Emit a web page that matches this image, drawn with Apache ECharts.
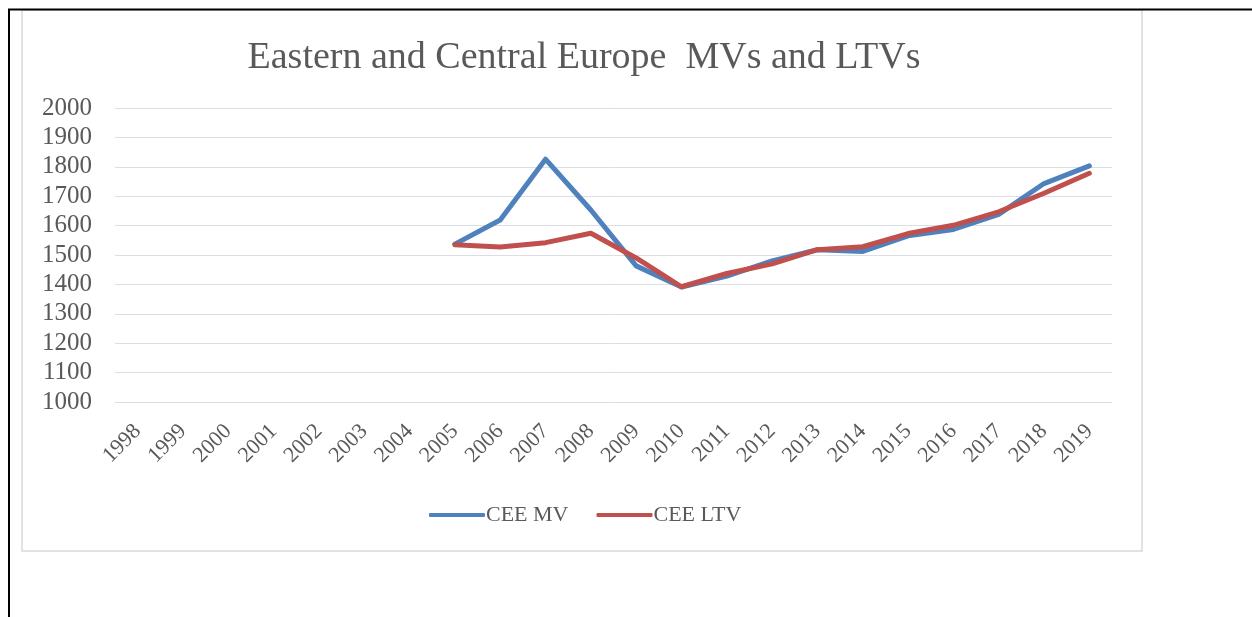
<!DOCTYPE html>
<html>
<head>
<meta charset="utf-8">
<script src="https://cdn.jsdelivr.net/npm/echarts@6/dist/echarts.min.js"></script>
<style>html,body{margin:0;padding:0;background:#fff;}#c{width:1252px;height:617px;}</style>
</head>
<body>
<div id="c"></div>
<script>
const years = ['1998','1999','2000','2001','2002','2003','2004','2005','2006','2007','2008','2009','2010','2011','2012','2013','2014','2015','2016','2017','2018','2019'];
const ceeMV = [null,null,null,null,null,null,null,1537,1619,1826,1653,1463,1391,1428,1480,1518,1512,1565,1587,1638,1743,1803];
const ceeLTV = [null,null,null,null,null,null,null,1535,1527,1542,1574,1490,1392,1437,1470,1518,1528,1573,1601,1647,1710,1778];
const yTicks = {min:1000, max:2000, step:100};

const font = '"Liberation Serif", "DejaVu Serif", serif';
const chart = echarts.init(document.getElementById('c'));
chart.setOption({
  animation:false,
  backgroundColor:'#fff',
  title:{text:'Eastern and Central Europe  MVs and LTVs', left:579, top:34, textAlign:'center',
    textStyle:{fontFamily:font, fontSize:38, fontWeight:'normal', color:'#595959'}},
  legend:{left:424, top:499, itemWidth:56, itemHeight:4, itemGap:28, icon:'roundRect',
    textStyle:{fontFamily:font, fontSize:22, color:'#595959', padding:[0,0,0,-4]},
    data:['CEE MV','CEE LTV']},
  grid:{left:115, right:140, top:108, bottom:215, containLabel:false},
  xAxis:{type:'category', data:years, boundaryGap:true,
    axisLine:{show:false}, axisTick:{show:false},
    axisLabel:{rotate:45, fontFamily:font, fontSize:22, color:'#595959', margin:26, interval:0}},
  yAxis:{type:'value', min:yTicks.min, max:yTicks.max, interval:yTicks.step,
    axisLine:{show:false}, axisTick:{show:false},
    axisLabel:{fontFamily:font, fontSize:25, color:'#595959', margin:23, formatter:v=>String(v)}},
  series:[
    {name:'CEE MV', type:'line', data:ceeMV, showSymbol:false, symbol:'none', color:'#4F81BD',
      lineStyle:{width:5, color:'#4F81BD', cap:'round', join:'round'}},
    {name:'CEE LTV', type:'line', data:ceeLTV, showSymbol:false, symbol:'none', color:'#C0504D',
      lineStyle:{width:5, color:'#C0504D', cap:'round', join:'round'}}
  ],
  graphic:[
    {type:'rect', shape:{x:22, y:10, width:1120, height:541}, style:{fill:'none', stroke:'#D9D9D9', lineWidth:1.5}, silent:true, z:-1},
    {type:'line', shape:{x1:8, y1:9.5, x2:1252, y2:9.5}, style:{stroke:'#000', lineWidth:2}, silent:true},
    {type:'line', shape:{x1:9, y1:9, x2:9, y2:617}, style:{stroke:'#000', lineWidth:2}, silent:true}
  ]
});
</script>
</body>
</html>
